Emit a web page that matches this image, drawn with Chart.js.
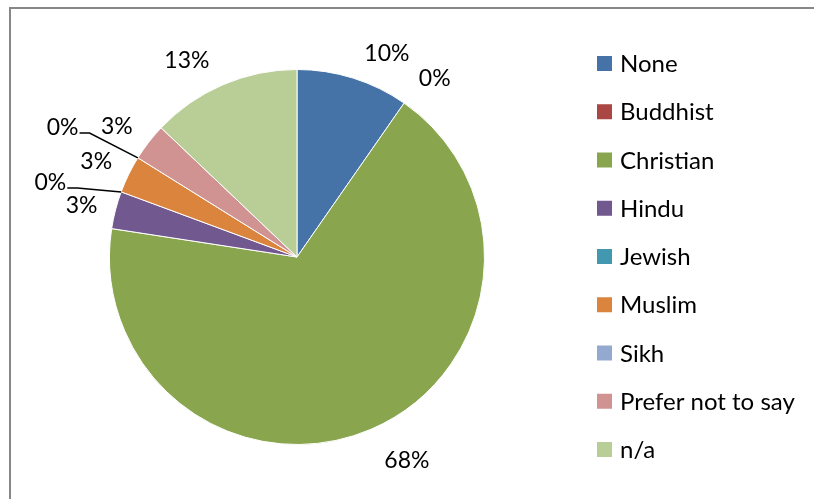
<!DOCTYPE html>
<html>
<head>
<meta charset="utf-8">
<script src="https://cdn.jsdelivr.net/npm/chart.js@4/dist/chart.umd.min.js"></script>
<style>
  html, body { margin: 0; padding: 0; background: #fff; }
  #wrap { width: 814px; height: 499px; position: relative; }
</style>
</head>
<body>
<div id="wrap"><canvas id="c" width="814" height="499"></canvas></div>
<script>
// Respondents by religion
const categories = ['None', 'Buddhist', 'Christian', 'Hindu', 'Jewish', 'Muslim', 'Sikh', 'Prefer not to say', 'n/a'];
const counts = [3, 0, 21, 1, 0, 1, 0, 1, 4];
const sliceColors = ['#4572A7', '#AA4643', '#89A54E', '#71588F', '#4198AF', '#DB843D', '#93A9CF', '#D19392', '#B9CD96'];

// Label placement: angular nudge (deg) from the slice middle, gap beyond the rim (px), leader line
const labelPlacement = [
  { turn: 6.4, gap: 35, leader: false },
  { turn: 2.8, gap: 38, leader: false },
  { turn: -5.1, gap: 44, leader: false },
  { turn: -1.0, gap: 34, leader: false },
  { turn: -3.6, gap: 70, leader: true },
  { turn: -0.6, gap: 35, leader: false },
  { turn: -3.1, gap: 80, leader: true },
  { turn: -1.8, gap: 35, leader: false },
  { turn: -6.0, gap: 38, leader: false }
];

const LABEL_FONT = '23px Lato, "Open Sans", sans-serif';
const LEGEND_FONT = '24px Lato, "Open Sans", sans-serif';

const frame = {
  id: 'frame',
  beforeDraw(chart) {
    const ctx = chart.ctx;
    ctx.save();
    ctx.fillStyle = '#fff';
    ctx.fillRect(0, 0, chart.width, chart.height);
    ctx.strokeStyle = '#878787';
    ctx.lineWidth = 2;
    ctx.strokeRect(10, 8, 1000, 1000);
    ctx.restore();
  }
};

const pctLabels = {
  id: 'pctLabels',
  afterDatasetsDraw(chart) {
    const ctx = chart.ctx;
    const meta = chart.getDatasetMeta(0);
    const data = chart.data.datasets[0].data;
    const total = data.reduce((a, b) => a + b, 0);
    ctx.save();
    ctx.font = LABEL_FONT;
    ctx.fillStyle = '#000';
    ctx.textAlign = 'center';
    ctx.textBaseline = 'middle';
    meta.data.forEach((arc, i) => {
      const p = labelPlacement[i];
      const mid = (arc.startAngle + arc.endAngle) / 2;
      const a = mid + p.turn * Math.PI / 180;
      const d = arc.outerRadius + p.gap;
      const x = arc.x + Math.cos(a) * d;
      const y = arc.y + Math.sin(a) * d;
      const txt = Math.round(data[i] / total * 100) + '%';
      ctx.fillText(txt, x, y);
      if (p.leader) {
        const w = ctx.measureText(txt).width;
        const sx = x + w / 2 + 1;
        const sy = y + 5;
        const ex = arc.x + Math.cos(mid) * arc.outerRadius;
        const ey = arc.y + Math.sin(mid) * arc.outerRadius;
        ctx.beginPath();
        ctx.strokeStyle = '#000';
        ctx.lineWidth = 1.5;
        ctx.moveTo(sx, sy);
        ctx.lineTo(sx + 10, sy);
        ctx.lineTo(ex, ey);
        ctx.stroke();
      }
    });
    ctx.restore();
  }
};

const sideLegend = {
  id: 'sideLegend',
  afterDraw(chart) {
    const ctx = chart.ctx;
    ctx.save();
    ctx.font = LEGEND_FONT;
    ctx.textAlign = 'left';
    ctx.textBaseline = 'middle';
    categories.forEach((name, i) => {
      const cy = 63.5 + i * 48.25;
      ctx.fillStyle = sliceColors[i];
      ctx.fillRect(597, cy - 7.5, 15, 15);
      ctx.fillStyle = '#000';
      ctx.fillText(name, 620, cy + 1);
    });
    ctx.restore();
  }
};

new Chart(document.getElementById('c'), {
  type: 'pie',
  data: {
    labels: categories,
    datasets: [{
      data: counts,
      backgroundColor: sliceColors,
      borderColor: '#ffffff',
      borderWidth: 1
    }]
  },
  options: {
    responsive: false,
    animation: false,
    layout: { padding: { left: 109, right: 329, top: 69, bottom: 54 } },
    plugins: {
      legend: { display: false },
      tooltip: { enabled: false }
    }
  },
  plugins: [frame, pctLabels, sideLegend]
});
</script>
</body>
</html>
